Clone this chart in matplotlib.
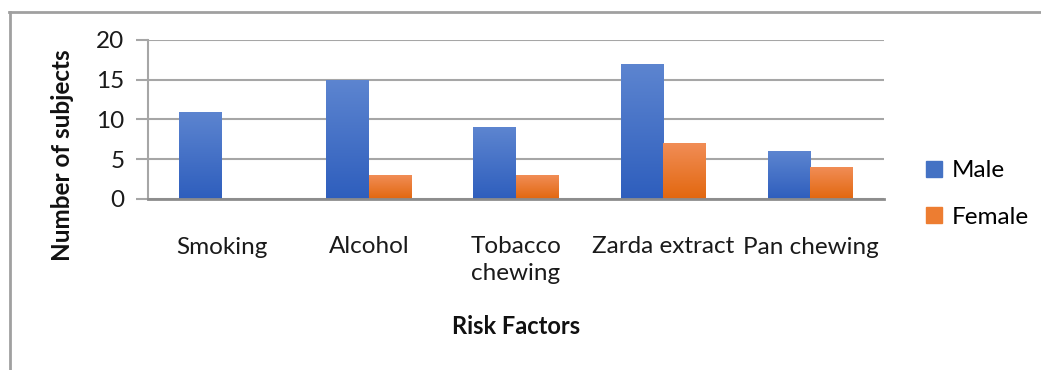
import numpy as np
import matplotlib
matplotlib.use("Agg")
import matplotlib.pyplot as plt
from matplotlib.lines import Line2D
from matplotlib.colors import LinearSegmentedColormap

categories = ["Smoking", "Alcohol", "Tobacco\nchewing", "Zarda extract", "Pan chewing"]
male = [11, 15, 9, 17, 6]
female = [0, 3, 3, 7, 4]
series_names = ["Male", "Female"]

plt.rcParams["font.family"] = ["Lato", "DejaVu Sans"]

fig = plt.figure(figsize=(10.41, 3.70), dpi=100)
ax = fig.add_axes([148 / 1041, 1 - 199 / 370, (884 - 148) / 1041, (199 - 40) / 370])

x = np.arange(len(categories))
w = 0.29
blue_cmap = LinearSegmentedColormap.from_list("b", ["#2E5EBD", "#5D85D0"])
orange_cmap = LinearSegmentedColormap.from_list("o", ["#E2670E", "#F18D56"])

bars_m = ax.bar(x - w / 2, male, w, color="#4472C4", label=series_names[0], zorder=2)
bars_f = ax.bar(x + w / 2, female, w, color="#ED7D31", label=series_names[1], zorder=2)

grad = np.linspace(0, 1, 256).reshape(-1, 1)
for bars, cmap in ((bars_m, blue_cmap), (bars_f, orange_cmap)):
    for b in bars:
        if b.get_height() <= 0:
            continue
        x0, y0 = b.get_x(), b.get_y()
        im = ax.imshow(grad, cmap=cmap, origin="lower", aspect="auto",
                       extent=[x0, x0 + b.get_width(), y0, y0 + b.get_height()],
                       zorder=3)
        im.set_clip_path(b)

ax.set_xlim(-0.5, len(categories) - 0.5)
ax.set_ylim(0, 20)
ax.set_yticks([0, 5, 10, 15, 20])
ax.set_xticks(x)
ax.set_xticklabels(categories, fontsize=17.5, color="#1a1a1a", linespacing=1.3)
ax.tick_params(axis="x", length=0, pad=27)
ax.tick_params(axis="y", length=9, width=1.5, color="#A6A6A6", labelsize=17.5,
               labelcolor="#1a1a1a", pad=8)
ax.grid(axis="y", color="#A6A6A6", linewidth=1.5, zorder=0)
ax.set_axisbelow(True)
for s in ("top", "right"):
    ax.spines[s].set_visible(False)
ax.spines["left"].set_color("#A6A6A6")
ax.spines["left"].set_linewidth(1.5)
ax.spines["bottom"].set_color("#8C8C8C")
ax.spines["bottom"].set_linewidth(2)
ax.spines["bottom"].set_zorder(4)

fig.text(62 / 1041, 1 - 155 / 370, "Number of subjects", rotation=90,
         ha="center", va="center", fontsize=17.5, fontweight="bold", color="#111111")
fig.text(516 / 1041, 1 - 326 / 370, "Risk Factors", ha="center", va="center",
         fontsize=17, fontweight="bold", color="#111111")

handles = [plt.Rectangle((0, 0), 1, 1, color="#4472C4"),
           plt.Rectangle((0, 0), 1, 1, color="#ED7D31")]
fig.legend(handles, series_names, loc="center left",
           bbox_to_anchor=(904 / 1041, 1 - 194 / 370), frameon=False,
           fontsize=17.5, handlelength=0.65, handleheight=0.65,
           handletextpad=0.4, labelspacing=1.05)

# outer frame (top and left edges)
fig.add_artist(Line2D([9 / 1041, 1.0], [1 - 12 / 370, 1 - 12 / 370],
                      transform=fig.transFigure, color="#A0A0A0", linewidth=2))
fig.add_artist(Line2D([10 / 1041, 10 / 1041], [1 - 12 / 370, 0.0],
                      transform=fig.transFigure, color="#A0A0A0", linewidth=2))

fig.savefig("out.png", dpi=100, facecolor="white")
